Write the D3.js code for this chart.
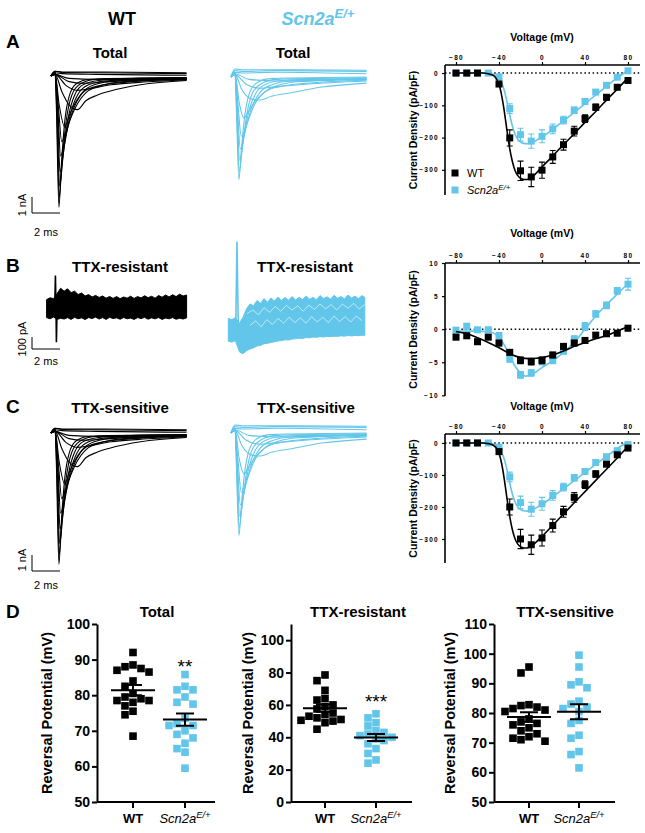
<!DOCTYPE html>
<html><head><meta charset="utf-8">
<script src="https://cdn.jsdelivr.net/npm/d3@7"></script>
<style>
body{margin:0;background:#fff}
svg{display:block}
text{font-family:"Liberation Sans",Arial,Helvetica,sans-serif}
</style>
</head><body>
<svg id="c" width="645" height="833"></svg>
<script>
// ---------------- DATA ----------------
// Example current traces (time in ms from step onset, current in nA)
const wtTotalTraces = [
 [[-0.3,0],[0,0.25],[0.1,-2],[0.28,-8.2],[0.45,-5.6],[0.7,-2.8],[1.0,-1.3],[1.5,-0.5],[2.5,-0.2],[9.4,-0.1]],
 [[-0.3,0],[0,0.25],[0.12,-2],[0.3,-7.6],[0.5,-5.4],[0.8,-2.8],[1.2,-1.2],[1.8,-0.5],[3,-0.2],[9.4,-0.12]],
 [[-0.3,0],[0,0.2],[0.15,-2],[0.33,-6.9],[0.6,-4.8],[0.95,-2.6],[1.4,-1.2],[2.1,-0.5],[3.5,-0.25],[9.4,-0.15]],
 [[-0.3,0],[0,0.2],[0.18,-2],[0.36,-6.0],[0.7,-4.2],[1.1,-2.4],[1.6,-1.2],[2.4,-0.55],[4,-0.28],[9.4,-0.18]],
 [[-0.3,0],[0,0.2],[0.2,-2],[0.4,-5.0],[0.8,-3.6],[1.3,-2.1],[1.9,-1.1],[2.8,-0.55],[4.5,-0.3],[9.4,-0.2]],
 [[-0.3,0],[0,0.15],[0.25,-2],[0.48,-4.1],[0.95,-3.0],[1.5,-1.9],[2.2,-1.05],[3.3,-0.6],[5,-0.35],[9.4,-0.22]],
 [[-0.3,0],[0,0.15],[0.3,-1.8],[0.7,-3.2],[1.0,-2.5],[1.5,-1.6],[2.1,-0.95],[3.2,-0.6],[4.9,-0.4],[9.4,-0.18]],
 [[-0.3,0],[0,0.1],[0.5,-1.0],[1.0,-1.8],[1.6,-2.1],[2.2,-1.55],[3.0,-1.2],[3.9,-0.95],[6.1,-0.55],[9.4,-0.28]],
 [[-0.3,0],[0,0.1],[0.8,-0.6],[1.6,-0.9],[2.5,-0.8],[4,-0.55],[6,-0.4],[9.4,-0.25]],
 [[-0.3,0],[0,0.1],[1,-0.35],[2,-0.45],[4,-0.35],[6.5,-0.25],[9.4,-0.2]],
 [[-0.3,0],[0,0.1],[1,-0.15],[3,-0.22],[6,-0.15],[9.4,-0.12]],
 [[-0.3,0],[0,0.2],[0.5,0.15],[3,0.1],[9.4,0.05]],
 [[-0.3,0],[0,0.3],[0.5,0.22],[3,0.2],[9.4,0.15]],
 [[-0.3,0],[0,0.3],[0.5,0.25],[3,0.25],[9.4,0.2]]
];
const blueTotalTraces = [
 [[-0.3,0],[0,0.3],[0.1,-2],[0.28,-6.4],[0.45,-4.6],[0.7,-2.4],[1.0,-1.1],[1.5,-0.4],[2.5,-0.1],[9.4,0]],
 [[-0.3,0],[0,0.3],[0.12,-2],[0.3,-5.9],[0.55,-4.2],[0.85,-2.3],[1.25,-1.0],[1.9,-0.4],[3,-0.15],[9.4,-0.05]],
 [[-0.3,0],[0,0.25],[0.15,-2],[0.33,-5.2],[0.65,-3.7],[1.0,-2.1],[1.5,-1.0],[2.2,-0.45],[3.5,-0.2],[9.4,-0.1]],
 [[-0.3,0],[0,0.25],[0.18,-2],[0.38,-4.5],[0.75,-3.3],[1.2,-1.9],[1.8,-0.95],[2.6,-0.5],[4,-0.25],[9.4,-0.12]],
 [[-0.3,0],[0,0.2],[0.22,-1.8],[0.45,-3.7],[0.9,-2.8],[1.4,-1.7],[2.1,-0.95],[3.0,-0.55],[4.5,-0.3],[9.4,-0.15]],
 [[-0.3,0],[0,0.2],[0.3,-1.6],[0.65,-2.56],[1.0,-2.1],[1.5,-1.45],[2.2,-0.9],[3.2,-0.6],[5,-0.4],[9.4,-0.2]],
 [[-0.3,0],[0,0.15],[0.5,-0.8],[1.1,-1.35],[1.8,-1.44],[2.6,-1.2],[3.9,-1.0],[6.2,-0.63],[9.4,-0.38]],
 [[-0.3,0],[0,0.15],[0.8,-0.45],[1.8,-0.7],[3,-0.6],[5,-0.45],[9.4,-0.25]],
 [[-0.3,0],[0,0.2],[1,-0.15],[3,-0.25],[6,-0.2],[9.4,-0.1]],
 [[-0.3,0],[0,0.3],[0.5,0.25],[3,0.3],[9.4,0.2]],
 [[-0.3,0],[0,0.4],[0.5,0.35],[3,0.4],[9.4,0.35]],
 [[-0.3,0],[0,0.5],[0.5,0.45],[3,0.45],[9.4,0.42]]
];
// TTX-sensitive traces look the same as the total ones
const wtSensTraces = wtTotalTraces;
const blueSensTraces = blueTotalTraces;

// TTX-resistant noisy traces: envelope [ms, low pA, high pA] and stimulus artefact [ms, pA]
const wtResBand = [
 [-0.6,-80,70],[-0.35,-90,85],[-0.1,-75,78],[0.15,-95,120],[0.4,-85,165],[0.65,-92,140],[0.9,-80,160],
 [1.15,-95,128],[1.4,-78,140],[1.65,-90,112],[1.9,-82,125],[2.15,-96,100],[2.4,-80,112],[2.65,-88,92],
 [2.9,-76,105],[3.15,-92,88],[3.4,-80,100],[3.65,-95,82],[3.9,-78,96],[4.15,-88,80],[4.4,-82,95],
 [4.65,-94,78],[4.9,-79,92],[5.15,-90,82],[5.4,-84,98],[5.65,-95,80],[5.9,-80,95],[6.15,-88,84],
 [6.4,-78,102],[6.65,-93,86],[6.9,-82,98],[7.15,-90,82],[7.4,-80,104],[7.65,-95,90],[7.9,-84,108],
 [8.15,-90,92],[8.4,-80,110],[8.65,-94,95],[8.9,-85,115],[9.15,-92,100],[9.4,-82,108]
];
const wtResSpike = [[-0.02,0],[0.03,270],[0.08,-60],[0.1,-285],[0.14,-40],[0.2,0]];
const blueResBand = [
 [-0.55,-110,80],[-0.3,-118,70],[-0.05,-105,85],[0.25,-200,40],[0.5,-215,90],[0.75,-190,160],
 [1.0,-175,200],[1.25,-165,185],[1.5,-150,230],[1.75,-145,205],[2.0,-130,245],[2.25,-128,215],
 [2.5,-120,250],[2.75,-115,225],[3.0,-108,258],[3.25,-105,230],[3.5,-98,255],[3.75,-100,232],
 [4.0,-92,262],[4.25,-90,235],[4.5,-85,255],[4.75,-88,238],[5.0,-80,265],[5.25,-82,240],
 [5.5,-75,255],[5.75,-78,235],[6.0,-72,270],[6.25,-75,245],[6.5,-70,260],[6.75,-72,240],
 [7.0,-68,272],[7.25,-70,248],[7.5,-65,262],[7.75,-68,242],[8.0,-63,275],[8.25,-66,250],
 [8.5,-62,265],[8.75,-64,245],[9.0,-60,270],[9.2,-62,255]
];
const blueResSpike = [[-0.02,0],[0.07,720],[0.15,100],[0.22,-150],[0.3,-60]];
// gaps between overlapping blue sweeps (pA)
const blueResGaps = [
 [[0.8,120],[1.2,150],[1.6,110],[2,170],[2.4,130],[2.8,180],[3.2,140],[3.6,190],[4,150],[4.4,185],[4.8,140],[5.2,190],[5.6,155],[6,200],[6.4,160],[6.8,195],[7.2,150],[7.6,200],[8,165],[8.4,205],[8.8,160],[9.2,195]],
 [[1,20],[1.4,60],[1.8,10],[2.2,70],[2.6,30],[3,80],[3.4,40],[3.8,90],[4.2,45],[4.6,85],[5,40],[5.4,95],[5.8,50],[6.2,90],[6.6,45],[7,100],[7.4,55],[7.8,95],[8.2,50],[8.6,100],[9,60]]
];

// I-V relationships
const voltages = [-80,-70,-60,-50,-40,-30,-20,-10,0,10,20,30,40,50,60,70,80];
const voltTicks = [-80,-40,0,40,80];

const wtTotalIV   = [0,0,0,null,-34,-201,-303,-322,-301,-260,-222,-180,-141,-106,-75,-44,-23];
const wtTotalSEM  = [0,0,0,0,6,25,30,30,25,20,17,15,12,10,8,6,5];
const blueTotalIV = [0,0,0,0,-12,-110,-191,-211,-196,-173,-146,-115,-88,-59,-38,-13,7];
const blueTotalSEM= [0,0,0,0,5,15,20,22,20,15,12,10,8,6,5,4,3];
const wtTotalFit  = [[-80,0],[-55,0],[-50,-2],[-45,-8],[-42,-20],[-40,-35],[-37.5,-70],[-35,-120],[-32.5,-180],[-30,-235],[-27.5,-275],[-25,-303],[-22.5,-318],[-20,-326],[-17,-330],[-14,-330],[-10,-325],[-5,-309],[0,-291],[10,-257],[20,-222],[30,-188],[40,-153],[50,-119],[60,-84],[70,-50],[80,-15]];
const blueTotalFit= [[-80,0],[-55,0],[-50,-1],[-45,-4],[-42,-9],[-40,-15],[-37.5,-30],[-35,-55],[-32.5,-90],[-30,-130],[-27.5,-165],[-25,-190],[-22.5,-205],[-20,-213],[-17,-218],[-14,-219],[-10,-216],[-5,-208],[0,-198],[10,-174],[20,-148],[30,-122],[40,-95],[50,-68],[60,-41],[70,-15],[80,8]];

const wtResIV    = [-1.2,-1.0,-1.9,-1.2,-2.1,-3.5,-4.7,-4.9,-4.7,-3.9,-2.6,-2.1,-1.7,-0.9,-0.7,-0.6,0.15];
const wtResSEM   = [0.4,0.4,0.4,0.4,0.4,0.4,0.5,0.5,0.5,0.4,0.4,0.4,0.4,0.4,0.4,0.4,0.4];
const blueResIV  = [-0.15,0.45,-0.1,-0.1,-1.0,-4.5,-6.9,-6.6,-4.9,-4.7,-3.3,-1.5,0.4,2.3,3.6,5.8,6.8];
const blueResSEM = [0.4,0.4,0.3,0.4,0.5,0.5,0.5,0.5,0.5,0.5,0.5,0.5,0.6,0.5,0.5,0.5,0.9];
const wtResFit   = [[-80,-0.35],[-70,-0.7],[-60,-1.3],[-50,-2.0],[-40,-2.8],[-30,-3.7],[-20,-4.3],[-12,-4.45],[-5,-4.4],[0,-4.3],[10,-3.9],[20,-3.3],[30,-2.6],[40,-2.0],[50,-1.45],[60,-0.95],[70,-0.3],[80,0.4]];
const blueResFit = [[-80,-0.3],[-60,-0.3],[-50,-0.4],[-45,-0.6],[-40,-1.2],[-35,-2.4],[-30,-4.0],[-25,-5.6],[-20,-6.6],[-15,-7.1],[-10,-6.9],[-5,-6.4],[0,-5.8],[10,-4.8],[20,-3.5],[30,-2.0],[40,0],[50,2.0],[60,3.7],[70,5.3],[80,6.9]];

const wtSensIV    = [0,0,0,null,-27,-200,-300,-318,-297,-258,-215,-170,-130,-97,-66,-37,-16];
const wtSensSEM   = [0,0,0,0,5,25,30,30,25,20,17,15,12,10,8,6,5];
const blueSensIV  = [0,0,0,0,-13,-106,-186,-207,-190,-164,-138,-109,-89,-61,-43,-24,-5];
const blueSensSEM = [0,0,0,0,5,15,20,22,20,15,12,10,8,6,5,4,3];
const wtSensFit   = [[-80,0],[-55,0],[-50,-2],[-45,-8],[-42,-18],[-40,-32],[-37.5,-65],[-35,-115],[-32.5,-175],[-30,-230],[-27.5,-272],[-25,-300],[-22.5,-316],[-20,-324],[-17,-328],[-14,-328],[-10,-323],[-5,-308],[0,-292],[10,-257],[20,-222],[30,-187],[40,-152],[50,-117],[60,-82],[70,-47],[80,-10]];
const blueSensFit = [[-80,0],[-55,0],[-50,-1],[-45,-4],[-42,-9],[-40,-15],[-37.5,-30],[-35,-52],[-32.5,-85],[-30,-125],[-27.5,-160],[-25,-185],[-22.5,-200],[-20,-207],[-17,-212],[-14,-213],[-10,-210],[-5,-202],[0,-192],[10,-168],[20,-143],[30,-118],[40,-92],[50,-67],[60,-42],[70,-18],[80,5]];

// Reversal potentials (mV)
const revTotalWT   = [92,88.5,88,87.5,87,86.5,84,82.5,80.5,79.5,79,78.5,78.5,78,77,75.5,74.5,68.5];
const revTotalMut  = [85.8,82.5,81.5,81.5,79.5,78,77.5,73.5,72,71.5,71.5,70,69,68,66.5,65,64,59.5];
const revResWT     = [78.5,75,69,64,63,60,59,57.5,55,54,53,52,51,50.5,50,49,45];
const revResMut    = [54.5,52,49,47,44,43,42,41,40,39,38,36,33,30,26,24];
const revSensWT    = [95.5,93.5,82.8,82.5,82,81.5,81,80.5,78,77,76.5,76,75,74,73,72,71.5,71,70.5];
const revSensMut   = [99.5,95.5,90.5,89.5,88.5,84,83,82,81.5,80.5,77.5,76.5,72.5,71.5,67,66,61.5];
const groups = ["WT","Scn2a"];

// ---------------- DRAWING ----------------
const BLUE = "#62C6EA";
const svg = d3.select("#c");
svg.append("rect").attr("width",645).attr("height",833).attr("fill","#fff");

function txt(x,y,s,o={}) {
  const t = svg.append("text").attr("x",x).attr("y",y).text(s)
    .attr("font-size",o.size||12).attr("font-weight",o.weight||"normal")
    .attr("font-style",o.style||"normal").attr("fill",o.fill||"#000")
    .attr("text-anchor",o.anchor||"middle");
  if (o.rotate) t.attr("transform",`rotate(${o.rotate},${x},${y})`);
  return t;
}
function scn2a(x,y,size,o={}) {
  const t = svg.append("text").attr("x",x).attr("y",y)
    .attr("font-size",size).attr("font-weight",o.weight||"normal").attr("font-style","italic")
    .attr("fill",o.fill||"#000").attr("text-anchor",o.anchor||"middle");
  t.append("tspan").text("Scn2a");
  t.append("tspan").attr("dy",-size*0.38).attr("font-size",size*0.72).text("E/+");
  return t;
}

// headers
txt(122,25,"WT",{size:18,weight:"bold"});
scn2a(318,25,18,{weight:"bold",fill:BLUE});
txt(6,48,"A",{size:19,weight:"bold",anchor:"start"});
txt(6,272,"B",{size:19,weight:"bold",anchor:"start"});
txt(6,413,"C",{size:19,weight:"bold",anchor:"start"});
txt(6,618,"D",{size:19,weight:"bold",anchor:"start"});
txt(110,58,"Total",{size:15,weight:"bold"});
txt(293,58,"Total",{size:15,weight:"bold"});
txt(120,272,"TTX-resistant",{size:15,weight:"bold"});
txt(305,272,"TTX-resistant",{size:15,weight:"bold"});
txt(120,413,"TTX-sensitive",{size:15,weight:"bold"});
txt(306,413,"TTX-sensitive",{size:15,weight:"bold"});

function drawTraces(traces,x0,y0,color){
  const x = d3.scaleLinear().domain([0,1]).range([x0,x0+14]);
  const y = d3.scaleLinear().domain([0,-1]).range([y0,y0+16]);
  const line = d3.line().x(d=>x(d[0])).y(d=>y(d[1])).curve(d3.curveMonotoneX);
  svg.append("g").selectAll("path").data(traces).join("path")
    .attr("d",line).attr("fill","none").attr("stroke",color).attr("stroke-width",1.1);
}
function drawBand(band,spike,x0,y0,color,gaps){
  const x = d3.scaleLinear().domain([0,1]).range([x0,x0+14]);
  const y = d3.scaleLinear().domain([0,100]).range([y0,y0-12]);
  const area = d3.area().x(d=>x(d[0])).y0(d=>y(d[1])).y1(d=>y(d[2]));
  svg.append("path").datum(band).attr("d",area).attr("fill",color).attr("stroke",color).attr("stroke-width",1);
  const line = d3.line().x(d=>x(d[0])).y(d=>y(d[1]));
  if (gaps) svg.append("g").selectAll("path").data(gaps).join("path").attr("d",line)
    .attr("fill","none").attr("stroke","#fff").attr("stroke-width",0.7).attr("opacity",0.85);
  svg.append("path").datum(spike).attr("d",line).attr("fill","none").attr("stroke",color).attr("stroke-width",1.6);
}
function scaleBar(x,yTop,yBot,xRight,vLab,vLabY,hLabY){
  svg.append("path").attr("d",`M${x},${yTop}V${yBot}H${xRight}`).attr("fill","none").attr("stroke","#000").attr("stroke-width",1);
  txt(26,vLabY,vLab,{size:11,rotate:-90});
  txt(46,hLabY,"2 ms",{size:11});
}

drawTraces(wtTotalTraces,55,76,"#000");
drawTraces(blueTotalTraces,235,77,BLUE);
scaleBar(32,197,213,60,"1 nA",205,236);

drawBand(wtResBand,wtResSpike,55,308,"#000");
drawBand(blueResBand,blueResSpike,236,328,BLUE,blueResGaps);
scaleBar(32,337,349,60,"100 pA",339,365);

drawTraces(wtSensTraces,55,433,"#000");
drawTraces(blueSensTraces,235,433,BLUE);
scaleBar(32,555,571,60,"1 nA",560,589);

// I-V plots
function ivPlot(c){
  const x = d3.scaleLinear().domain([-80,80]).range([456,628]);
  const y = d3.scaleLinear().domain(c.yDomain).range([c.yBottom,c.axisY]);
  const g = svg.append("g");
  g.append("text").attr("x",542).attr("y",c.titleY).attr("text-anchor","middle")
    .attr("font-size",10.5).attr("font-weight","bold").text("Voltage (mV)");
  const ax = g.append("g").attr("transform",`translate(0,${c.axisY})`)
    .call(d3.axisTop(x).tickValues(voltTicks).tickSize(3).tickSizeOuter(0).tickPadding(2));
  ax.select(".domain").remove();
  ax.selectAll("line").attr("stroke-width",1.2);
  ax.selectAll("text").attr("font-size",6.5).attr("font-weight","bold").attr("letter-spacing",1.3)
    .attr("font-family","Liberation Sans, Arial, sans-serif");
  g.append("line").attr("x1",445).attr("x2",640).attr("y1",c.axisY).attr("y2",c.axisY).attr("stroke","#000").attr("stroke-width",1.6);
  const ay = g.append("g").attr("transform","translate(445,0)")
    .call(d3.axisLeft(y).tickValues(c.yTicks).tickSize(3).tickPadding(3));
  ay.select(".domain").remove();
  ay.selectAll("line").attr("stroke-width",1.2);
  ay.selectAll("text").attr("font-size",6.5).attr("font-weight","bold").attr("letter-spacing",1.3)
    .attr("font-family","Liberation Sans, Arial, sans-serif");
  g.append("line").attr("x1",445).attr("x2",445).attr("y1",c.axisY).attr("y2",c.yBottom).attr("stroke","#000").attr("stroke-width",1.6);
  g.append("text").attr("transform",`translate(413,${(c.axisY+c.yBottom)/2}) rotate(-90)`)
    .attr("text-anchor","middle").attr("font-size",10.5).attr("font-weight","bold").attr("dy","0.35em")
    .text("Current  Density (pA/pF)");
  g.append("line").attr("x1",445).attr("x2",640).attr("y1",y(0)).attr("y2",y(0))
    .attr("stroke","#000").attr("stroke-width",1.5).attr("stroke-dasharray","1.5,2.6");
  const fitLine = d3.line().x(d=>x(d[0])).y(d=>y(d[1])).curve(d3.curveMonotoneX);
  function series(vals,sem,fit,color){
    g.append("path").datum(fit).attr("d",fitLine).attr("fill","none").attr("stroke",color).attr("stroke-width",1.6);
    const pts = voltages.map((v,i)=>({v, m:vals[i], s:sem[i]})).filter(d=>d.m!==null);
    const eb = g.append("g").attr("stroke",color).attr("stroke-width",1.1).attr("fill","none");
    pts.filter(d=>d.s>0).forEach(d=>{
      const x0=x(d.v), y1=y(d.m-d.s), y2=y(d.m+d.s);
      eb.append("path").attr("d",`M${x0},${y1}V${y2}M${x0-3},${y1}h6M${x0-3},${y2}h6`);
    });
    g.append("g").selectAll("rect").data(pts).join("rect")
      .attr("x",d=>x(d.v)-3.5).attr("y",d=>y(d.m)-3.5).attr("width",7).attr("height",7).attr("fill",color);
  }
  series(c.bl,c.blSem,c.blFit,BLUE);
  series(c.wt,c.wtSem,c.wtFit,"#000");
  if (c.legend){
    g.append("rect").attr("x",451.5).attr("y",169.5).attr("width",7).attr("height",7).attr("fill","#000");
    g.append("rect").attr("x",451.5).attr("y",186.5).attr("width",7).attr("height",7).attr("fill",BLUE);
    txt(467,177,"WT",{size:11,anchor:"start"});
    scn2a(467,194,11,{anchor:"start"});
  }
}
ivPlot({titleY:41,axisY:65,yBottom:195,yDomain:[-378,25],yTicks:[0,-100,-200,-300],
  wt:wtTotalIV,wtSem:wtTotalSEM,wtFit:wtTotalFit,bl:blueTotalIV,blSem:blueTotalSEM,blFit:blueTotalFit,legend:true});
ivPlot({titleY:237,axisY:263,yBottom:396,yDomain:[-10.1,10],yTicks:[10,5,0,-5,-10],
  wt:wtResIV,wtSem:wtResSEM,wtFit:wtResFit,bl:blueResIV,blSem:blueResSEM,blFit:blueResFit});
ivPlot({titleY:410,axisY:434,yBottom:563,yDomain:[-375,28],yTicks:[0,-100,-200,-300],
  wt:wtSensIV,wtSem:wtSensSEM,wtFit:wtSensFit,bl:blueSensIV,blSem:blueSensSEM,blFit:blueSensFit});

// Reversal potential scatter plots
function dotPlot(c){
  const y = d3.scaleLinear().domain(c.domain).range([802,624]);
  const g = svg.append("g");
  txt(c.titleX,617,c.title,{size:15,weight:"bold"});
  const ay = g.append("g").attr("transform",`translate(${c.ax},0)`)
    .call(d3.axisLeft(y).tickValues(c.ticks).tickSize(5).tickSizeOuter(0).tickPadding(2));
  ay.select(".domain").attr("stroke-width",2);
  ay.selectAll(".tick line").attr("stroke-width",2);
  ay.selectAll("text").attr("font-size",14).attr("font-weight","bold").attr("font-family","Liberation Sans, Arial, sans-serif");
  g.append("line").attr("x1",c.ax).attr("x2",c.xEnd).attr("y1",802).attr("y2",802).attr("stroke","#000").attr("stroke-width",2);
  g.append("text").attr("transform",`translate(${c.labelX},713) rotate(-90)`).attr("text-anchor","middle")
    .attr("font-size",14.5).attr("font-weight","bold").attr("dy","0.35em").text("Reversal Potential (mV)");
  const cx = [c.cx0,c.cx1];
  [c.wt,c.mut].forEach((vals,gi)=>{
    const color = gi===0?"#000":BLUE;
    g.append("line").attr("x1",cx[gi]).attr("x2",cx[gi]).attr("y1",802).attr("y2",808).attr("stroke","#000").attr("stroke-width",2);
    // simple dodge layout
    const placed=[]; const s=8;
    const sorted = vals.slice().sort((a,b)=>b-a);
    sorted.forEach(v=>{
      const py=y(v);
      const cands=[0,-s,s,-2*s,2*s,-3*s,3*s];
      let dx=0;
      for (const k of cands){
        if (!placed.some(p=>Math.abs(p.dx-k)<7.6 && Math.abs(p.py-py)<7.6)){dx=k;break;}
      }
      placed.push({dx,py,v});
    });
    g.append("g").selectAll("rect").data(placed).join("rect")
      .attr("x",d=>cx[gi]+d.dx-3.8).attr("y",d=>d.py-3.8).attr("width",7.6).attr("height",7.6).attr("fill",color);
    const m = d3.mean(vals), se = d3.deviation(vals)/Math.sqrt(vals.length);
    const eg = g.append("g").attr("stroke","#000").attr("stroke-width",2).attr("fill","none");
    eg.append("path").attr("d",`M${cx[gi]-22},${y(m)}h44`);
    eg.append("path").attr("d",`M${cx[gi]},${y(m-se)}V${y(m+se)}M${cx[gi]-9},${y(m-se)}h18M${cx[gi]-9},${y(m+se)}h18`);
  });
  txt(c.cx0,823,"WT",{size:13,weight:"bold"});
  scn2a(c.cx1,823,13);
  if (c.star) txt(c.cx1,c.starY,c.star,{size:19});
}
dotPlot({title:"Total",titleX:157,ax:97,xEnd:215,domain:[50,100],ticks:[50,60,70,80,90,100],
  labelX:47,cx0:133,cx1:185,wt:revTotalWT,mut:revTotalMut,star:"**",starY:673});
dotPlot({title:"TTX-resistant",titleX:358,ax:291,xEnd:412,domain:[0,110],ticks:[0,20,40,60,80,100],
  labelX:248,cx0:325,cx1:376,wt:revResWT,mut:revResMut,star:"***",starY:708});
dotPlot({title:"TTX-sensitive",titleX:565,ax:494,xEnd:615,domain:[50,110],ticks:[50,60,70,80,90,100,110],
  labelX:450,cx0:529,cx1:579,wt:revSensWT,mut:revSensMut});
</script>
</body></html>
